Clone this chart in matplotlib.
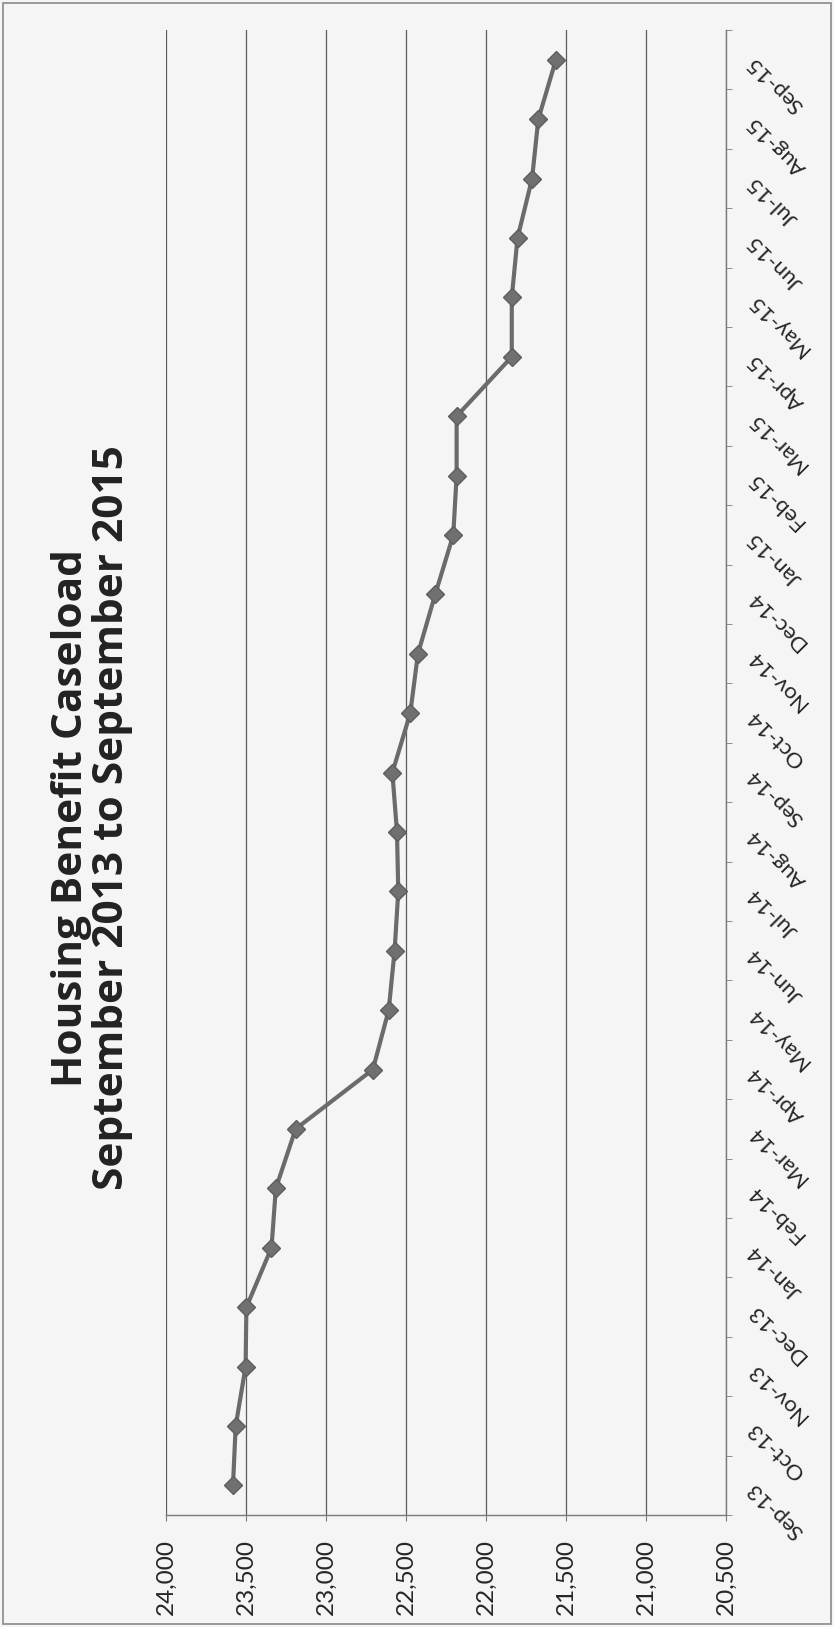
import numpy as np
import matplotlib.pyplot as plt
from matplotlib.patches import Rectangle

months = ['Sep-13', 'Oct-13', 'Nov-13', 'Dec-13', 'Jan-14', 'Feb-14', 'Mar-14',
          'Apr-14', 'May-14', 'Jun-14', 'Jul-14', 'Aug-14', 'Sep-14', 'Oct-14',
          'Nov-14', 'Dec-14', 'Jan-15', 'Feb-15', 'Mar-15', 'Apr-15', 'May-15',
          'Jun-15', 'Jul-15', 'Aug-15', 'Sep-15']
caseload = [23584, 23567, 23505, 23500, 23343, 23316, 23192,
            22709, 22610, 22573, 22550, 22558, 22587, 22475,
            22427, 22319, 22206, 22185, 22185, 21840, 21840,
            21804, 21713, 21674, 21564]
value_ticks = [24000, 23500, 23000, 22500, 22000, 21500, 21000, 20500]

title = 'Housing Benefit Caseload\nSeptember 2013 to September 2015'

plt.rcParams['font.family'] = ['Lato', 'DejaVu Sans']

bg = '#f5f5f5'
fig = plt.figure(figsize=(8.34, 16.27), dpi=100, facecolor=bg)
# chart is laid out sideways: values run left-to-right, months bottom-to-top
ax = fig.add_axes([0.1996, 0.0688, 0.6709, 0.9127], facecolor=bg)

pos = np.arange(len(months))
ax.plot(caseload, pos, color='#6b6b6b', lw=3, marker='D', ms=9.5,
        mfc='#707070', mec='#5e5e5e', zorder=3)

ax.set_xlim(value_ticks[0], value_ticks[-1])
ax.set_ylim(-0.5, len(months) - 0.5)

ax.set_xticks(value_ticks)
ax.set_xticklabels([f'{v:,}' for v in value_ticks], rotation=90, fontsize=17.5,
                   color='#262626')
ax.tick_params(axis='x', length=4, pad=13, color='#7a7a7a')
ax.grid(axis='x', color='#5c5c5c', lw=0.9)
ax.set_axisbelow(True)

ax.yaxis.tick_right()
ax.set_yticks(pos)
ax.set_yticklabels(months)
ax.set_yticks(np.arange(-0.5, len(months)), minor=True)
ax.tick_params(axis='y', which='major', length=0, pad=18)
ax.tick_params(axis='y', which='minor', length=4, direction='out', color='#7a7a7a')
plt.setp(ax.get_yticklabels(), rotation=135, ha='right', va='center',
         rotation_mode='anchor', fontsize=16, color='#262626')

for side in ['left', 'top']:
    ax.spines[side].set_visible(False)
for side in ['bottom', 'right']:
    ax.spines[side].set_color('#7a7a7a')
    ax.spines[side].set_linewidth(1)

fig.text(92 / 834, 1 - 818 / 1627, title, rotation=90, ha='center', va='center',
         fontsize=30.5, fontweight='bold', family=['Open Sans', 'DejaVu Sans'],
         color='#222222', multialignment='center', linespacing=0.98)

fig.patches.append(Rectangle((0.004, 0.002), 0.992, 0.996, transform=fig.transFigure,
                             fill=False, ec='#8a8a8a', lw=1.2))

fig.savefig('out.png', dpi=100, facecolor=fig.get_facecolor())
